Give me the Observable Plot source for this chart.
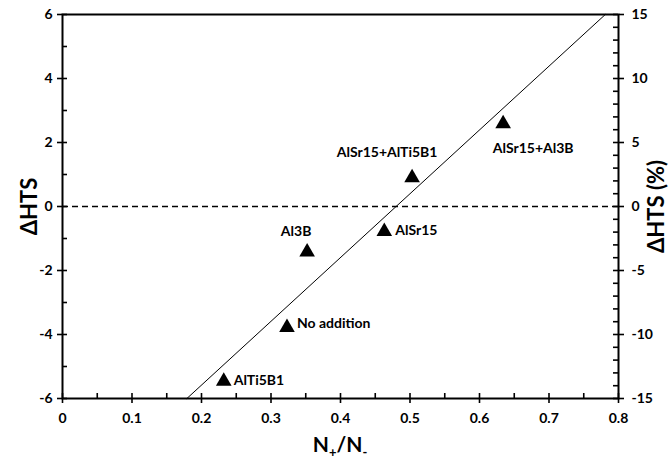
<!DOCTYPE html>
<html><head><meta charset="utf-8">
<script src="https://cdn.jsdelivr.net/npm/d3@7"></script>
<script src="https://cdn.jsdelivr.net/npm/@observablehq/plot@0.6"></script>
<style>body{margin:0;background:#fff}</style>
</head><body><div id="chart"></div>
<script>
// ---- data ----
const names = ["AlTi5B1", "No addition", "Al3B", "AlSr15", "AlSr15+AlTi5B1", "AlSr15+Al3B"];
const ratio = [0.232, 0.323, 0.352, 0.463, 0.503, 0.634];
const dHTS  = [-5.40, -3.72, -1.36, -0.72, 0.96, 2.65];
const fitX = [0.179, 0.781];
const fitY = [-6, 6];
const xTicks = [0, 0.1, 0.2, 0.3, 0.4, 0.5, 0.6, 0.7, 0.8];
const xMinor = [0.05, 0.15, 0.25, 0.35, 0.45, 0.55, 0.65, 0.75];
const yTicks = [-6, -4, -2, 0, 2, 4, 6];
const yMinor = [-5, -3, -1, 1, 3, 5];
const pctTicks = [-15, -10, -5, 0, 5, 10, 15];
const pctMinor = [-14,-13,-12,-11,-9,-8,-7,-6,-4,-3,-2,-1,1,2,3,4,6,7,8,9,11,12,13,14];
const pctPerUnit = 2.5; // 15 % corresponds to 6 units

// ---- layout / style ----
const W = 670, H = 462, mL = 62, mR = 52, mT = 14, mB = 64;
const plotW = W - mL - mR, plotH = H - mT - mB;
const FONT = "Lato, 'Open Sans', sans-serif";
const labelPlace = {
  "AlTi5B1":        {dx: 10,  dy: 1,   textAnchor: "start"},
  "No addition":    {dx: 10,  dy: -2,  textAnchor: "start"},
  "Al3B":           {dx: -11, dy: -19, textAnchor: "middle"},
  "AlSr15":         {dx: 11,  dy: 1,   textAnchor: "start"},
  "AlSr15+AlTi5B1": {dx: -25, dy: -23, textAnchor: "middle"},
  "AlSr15+Al3B":    {dx: 30,  dy: 27,  textAnchor: "middle"}
};
const idx = names.map((_, i) => i);
const pctToY = p => p / pctPerUnit;

const chart = Plot.plot({
  width: W, height: H,
  marginLeft: mL, marginRight: mR, marginTop: mT, marginBottom: mB,
  style: {fontFamily: FONT, fontSize: "14px", fontWeight: "bold", color: "black", background: "white"},
  x: {domain: [0, 0.8]},
  y: {domain: [-6, 6]},
  marks: [
    Plot.ruleY([0], {stroke: "black", strokeWidth: 1.3, strokeDasharray: "6,4"}),
    Plot.line(fitX.map((x, i) => ({x, y: fitY[i]})), {x: "x", y: "y", stroke: "black", strokeWidth: 1}),
    Plot.frame({stroke: "black", strokeWidth: 2}),
    // bottom axis
    Plot.axisX({ticks: xTicks, tickFormat: d => String(d), tickSize: 5, tickPadding: 10, strokeWidth: 1.6, label: null}),
    Plot.tickX(xTicks, {x: d => d, insetTop: plotH - 5, stroke: "black", strokeWidth: 1.6}),
    Plot.tickX(xMinor, {x: d => d, insetTop: plotH - 5, stroke: "black", strokeWidth: 1.6}),
    // left axis
    Plot.axisY({ticks: yTicks, tickFormat: d => String(d), tickSize: 5, tickPadding: 5, strokeWidth: 1.6, label: null}),
    Plot.tickY(yTicks, {y: d => d, insetRight: plotW - 5, stroke: "black", strokeWidth: 1.6}),
    Plot.tickY(yMinor, {y: d => d, insetRight: plotW - 5, stroke: "black", strokeWidth: 1.6}),
    // right axis (percent)
    Plot.axisY({anchor: "right", ticks: pctTicks.map(pctToY), tickFormat: d => String(Math.round(d * pctPerUnit)), tickSize: 5, tickPadding: 8, strokeWidth: 1.6, label: null}),
    Plot.tickY(pctTicks.map(pctToY), {y: d => d, insetLeft: plotW - 5, stroke: "black", strokeWidth: 1.6}),
    Plot.tickY(pctMinor.map(pctToY), {y: d => d, insetLeft: plotW - 5, stroke: "black", strokeWidth: 1.6}),
    // points
    Plot.dot(idx, {x: i => ratio[i], y: i => dHTS[i], symbol: "triangle", r: 5.8, fill: "black", stroke: "none", dy: 2}),
    ...idx.map(i => Plot.text([i], {
      x: j => ratio[j], y: j => dHTS[j], text: j => names[j],
      fontSize: 14, fontWeight: "bold", fill: "black", ...labelPlace[names[i]]
    })),
    // axis titles
    Plot.text(["ΔHTS"], {frameAnchor: "left", textAnchor: "middle", dx: -33, rotate: -90, fontSize: 22, fontWeight: "bold", fill: "black"}),
    Plot.text(["ΔHTS (%)"], {frameAnchor: "right", textAnchor: "middle", dx: 38, rotate: -90, fontSize: 22, fontWeight: "bold", fill: "black"})
  ]
});

// x-axis title with sub-scripts
const t = d3.select(chart).append("text")
  .attr("x", mL + plotW / 2).attr("y", 452)
  .attr("text-anchor", "middle").attr("font-family", FONT)
  .attr("font-size", 21).attr("font-weight", "bold").attr("fill", "black");
t.append("tspan").text("N");
t.append("tspan").attr("font-size", 13).attr("dy", 5).text("+");
t.append("tspan").attr("dy", -5).text("/N");
t.append("tspan").attr("font-size", 13).attr("dy", 5).text("-");

document.getElementById("chart").appendChild(chart);
</script>
</body></html>
